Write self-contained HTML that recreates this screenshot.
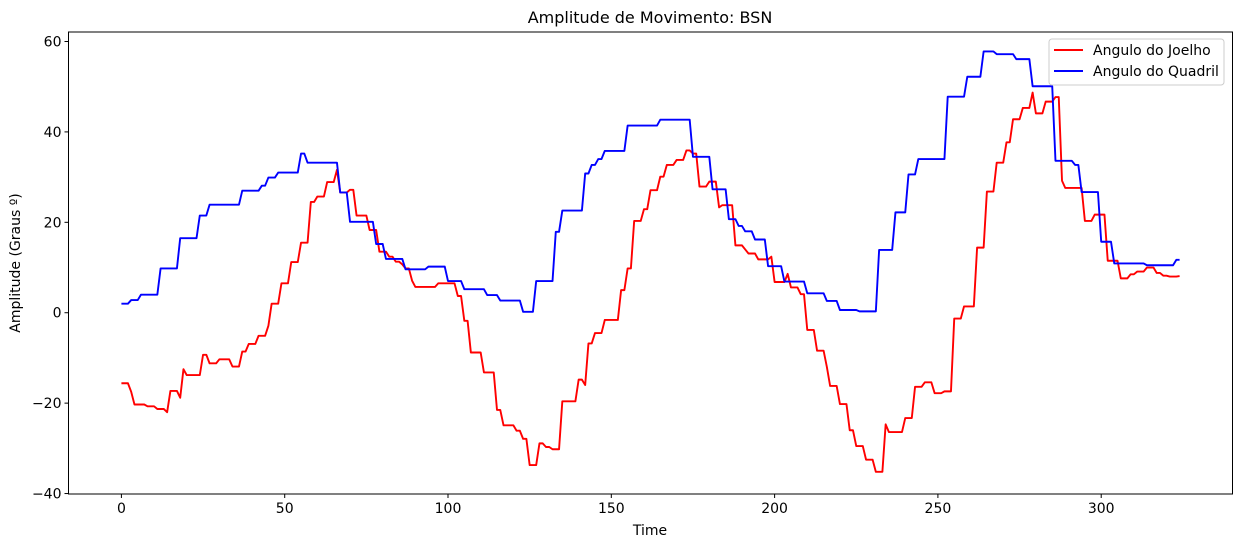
<!DOCTYPE html>
<html><head><meta charset="utf-8"><style>
html,body{margin:0;padding:0;background:#fff}
svg text{font-family:"DejaVu Sans","Liberation Sans",sans-serif;fill:#000}
</style></head><body>
<svg id="chart" width="1240" height="547" viewBox="0 0 1240 547" xmlns="http://www.w3.org/2000/svg">
<rect x="0" y="0" width="1240" height="547" fill="#fff"/>
<text x="650" y="23" font-size="16" text-anchor="middle">Amplitude de Movimento: BSN</text>
<g id="xticks"></g>
<g id="yticks"></g>
<text x="650" y="535" font-size="14" text-anchor="middle">Time</text>
<text x="20" y="263" font-size="14" text-anchor="middle" transform="rotate(-90 20 263)">Amplitude (Graus º)</text>
<g id="series"></g>
<rect x="68.5" y="32" width="1164" height="462" fill="none" stroke="#000" stroke-width="1"/>
<g>
<rect x="1049" y="39" width="175" height="46" rx="3" fill="#fff" fill-opacity="0.8" stroke="#ccc"/>
<line x1="1054" y1="50" x2="1083" y2="50" stroke="#f00" stroke-width="1.9"/>
<text x="1093" y="55" font-size="14">Angulo do Joelho</text>
<line x1="1054" y1="71" x2="1083" y2="71" stroke="#00f" stroke-width="1.9"/>
<text x="1093" y="76" font-size="14">Angulo do Quadril</text>
</g>
</svg>
<script>
const xTicks=[0,50,100,150,200,250,300];
const yTicks=[-40,-20,0,20,40,60];
const hip=[2.0,2.0,2.0,2.8,2.8,2.8,4.0,4.0,4.0,4.0,
4.0,4.0,9.8,9.8,9.8,9.8,9.8,9.8,16.5,16.5,
16.5,16.5,16.5,16.5,21.5,21.5,21.5,23.9,23.9,23.9,
23.9,23.9,23.9,23.9,23.9,23.9,23.9,27,27,27,
27,27,27,28.1,28.1,29.9,29.9,29.9,31,31,
31,31,31,31,31,35.2,35.2,33.2,33.2,33.2,
33.2,33.2,33.2,33.2,33.2,33.2,33.2,26.6,26.6,26.6,
20.1,20.1,20.1,20.1,20.1,20.1,20.1,20.1,15.2,15.2,
15.2,11.9,11.9,11.9,11.9,11.9,11.9,9.6,9.6,9.6,
9.6,9.6,9.6,9.6,10.2,10.2,10.2,10.2,10.2,10.2,
7,7,7,7,7,5.2,5.2,5.2,5.2,5.2,
5.2,5.2,3.9,3.9,3.9,3.9,2.7,2.7,2.7,2.7,
2.7,2.7,2.7,0.2,0.2,0.2,0.2,7,7,7,
7,7,7,17.9,17.9,22.6,22.6,22.6,22.6,22.6,
22.6,22.6,30.8,30.8,32.7,32.7,34,34,35.8,35.8,
35.8,35.8,35.8,35.8,35.8,41.4,41.4,41.4,41.4,41.4,
41.4,41.4,41.4,41.4,41.4,42.7,42.7,42.7,42.7,42.7,
42.7,42.7,42.7,42.7,42.7,34.5,34.5,34.5,34.5,34.5,
34.5,27.3,27.3,27.3,27.3,27.3,20.7,20.7,20.7,19.2,
19.2,18,18,18,16.2,16.2,16.2,16.2,10.3,10.3,
10.3,10.3,10.3,6.9,6.9,6.9,6.9,6.9,6.9,6.9,
4.3,4.3,4.3,4.3,4.3,4.3,2.6,2.6,2.6,2.6,
0.6,0.6,0.6,0.6,0.6,0.6,0.3,0.3,0.3,0.3,
0.3,0.3,13.9,13.9,13.9,13.9,13.9,22.2,22.2,22.2,
22.2,30.6,30.6,30.6,34,34,34,34,34,34,
34,34,34,47.8,47.8,47.8,47.8,47.8,47.8,52.2,
52.2,52.2,52.2,52.2,57.8,57.8,57.8,57.8,57.2,57.2,
57.2,57.2,57.2,57.2,56.1,56.1,56.1,56.1,56.1,50.1,
50.1,50.1,50.1,50.1,50.1,50.1,33.6,33.6,33.6,33.6,
33.6,33.6,32.7,32.7,26.7,26.7,26.7,26.7,26.7,26.7,
15.7,15.7,15.7,15.7,10.9,10.9,10.9,10.9,10.9,10.9,
10.9,10.9,10.9,10.9,10.5,10.5,10.5,10.5,10.5,10.5,
10.5,10.5,10.5,11.7,11.7];
const knee=[-15.6,-15.6,-15.6,-17.5,-20.3,-20.3,-20.3,-20.3,-20.7,-20.7,
-20.7,-21.3,-21.3,-21.3,-22,-17.3,-17.3,-17.3,-18.8,-12.5,
-13.8,-13.8,-13.8,-13.8,-13.8,-9.3,-9.3,-11.2,-11.2,-11.2,
-10.3,-10.3,-10.3,-10.3,-11.9,-11.9,-11.9,-8.6,-8.6,-6.9,
-6.9,-6.9,-5.1,-5.1,-5.1,-2.9,2,2,2,6.5,
6.5,6.5,11.2,11.2,11.2,15.5,15.5,15.5,24.5,24.5,
25.7,25.7,25.7,28.9,28.9,28.9,31.6,26.6,26.6,26.6,
27.2,27.2,21.5,21.5,21.5,21.5,18.3,18.3,18.3,13.5,
13.5,13.5,12.4,12.4,11.3,11.3,10.7,9.8,9.8,7.1,
5.7,5.7,5.7,5.7,5.7,5.7,5.7,6.5,6.5,6.5,
6.5,6.5,6.5,3.7,3.7,-1.8,-1.8,-8.8,-8.8,-8.8,
-8.8,-13.2,-13.2,-13.2,-13.2,-21.5,-21.5,-24.9,-24.9,-24.9,
-24.9,-26.1,-26.1,-27.9,-27.9,-33.7,-33.7,-33.7,-28.9,-28.9,
-29.7,-29.7,-30.2,-30.2,-30.2,-19.6,-19.6,-19.6,-19.6,-19.6,
-14.8,-14.8,-16,-6.8,-6.8,-4.5,-4.5,-4.5,-1.6,-1.6,
-1.6,-1.6,-1.6,5,5,9.8,9.8,20.3,20.3,20.3,
22.9,22.9,27.1,27.1,27.1,30.1,30.1,32.7,32.7,32.7,
33.8,33.8,33.8,35.9,35.9,35.2,35.2,27.9,27.9,27.9,
29,29,29,23.3,23.8,23.8,23.8,23.8,14.9,14.9,
14.9,14,13.1,13.1,13.1,11.8,11.8,11.8,11.8,12.4,
6.8,6.8,6.8,6.8,8.6,5.6,5.6,5.6,4.1,4.1,
-3.8,-3.8,-3.8,-8.4,-8.4,-8.4,-12,-16.2,-16.2,-16.2,
-20.2,-20.2,-20.2,-26,-26,-29.5,-29.5,-29.5,-32.5,-32.5,
-32.5,-35.2,-35.2,-35.2,-24.7,-26.4,-26.4,-26.4,-26.4,-26.4,
-23.3,-23.3,-23.3,-16.4,-16.4,-16.4,-15.4,-15.4,-15.4,-17.8,
-17.8,-17.8,-17.4,-17.4,-17.4,-1.3,-1.3,-1.3,1.4,1.4,
1.4,1.4,14.4,14.4,14.4,26.8,26.8,26.8,33.2,33.2,
33.2,37.7,37.7,42.8,42.8,42.8,45.3,45.3,45.3,48.7,
44.1,44.1,44.1,46.7,46.7,46.7,47.7,47.7,29.2,27.6,
27.6,27.6,27.6,27.6,27.6,20.3,20.3,20.3,21.7,21.7,
21.7,21.7,11.5,11.5,11.5,11.5,7.6,7.6,7.6,8.5,
8.5,9.1,9.1,9.1,10,10,10,8.8,8.8,8.2,
8.2,8,8,8,8.1];

const NS='http://www.w3.org/2000/svg';
const L=68.5,R=1232.5,T=32,B=494;
const xMin=-16.2,xMax=340.2,yMin=-40.1,yMax=62.1;
function X(v){return L+(v-xMin)/(xMax-xMin)*(R-L);}
function Y(v){return B-(v-yMin)/(yMax-yMin)*(B-T);}
function mk(tag,attrs){const e=document.createElementNS(NS,tag);for(const k in attrs)e.setAttribute(k,attrs[k]);return e;}
const xg=document.getElementById('xticks'),yg=document.getElementById('yticks'),sg=document.getElementById('series');
xTicks.forEach(t=>{
  const ln=mk('line',{x1:X(t),x2:X(t),y1:B,y2:B+4,stroke:'#000'});
  
  
  xg.appendChild(ln);
  const tx=mk('text',{x:X(t),y:B+19,'font-size':14,'text-anchor':'middle'});
  tx.textContent=String(t);
  
  
  xg.appendChild(tx);
});
yTicks.forEach(t=>{
  const ln=mk('line',{x1:L-4,x2:L,y1:Y(t),y2:Y(t),stroke:'#000'});
  
  
  yg.appendChild(ln);
  const tx=mk('text',{x:L-7,y:Y(t)+5,'font-size':14,'text-anchor':'end'});
  tx.textContent=t<0?'\u2212'+Math.abs(t):String(t);
  
  
  yg.appendChild(tx);
});
function drawLine(arr,color,name){
  const d=arr.map((v,i)=>(i?'L':'M')+X(i).toFixed(2)+' '+Y(v).toFixed(2)).join(' ');
  const p=mk('path',{d:d,fill:'none',stroke:color,'stroke-width':1.9,'stroke-linejoin':'round'});
  
  
  sg.appendChild(p);
}
drawLine(knee,'#ff0000','knee-angle-line');
drawLine(hip,'#0000ff','hip-angle-line');
</script>
</body></html>
